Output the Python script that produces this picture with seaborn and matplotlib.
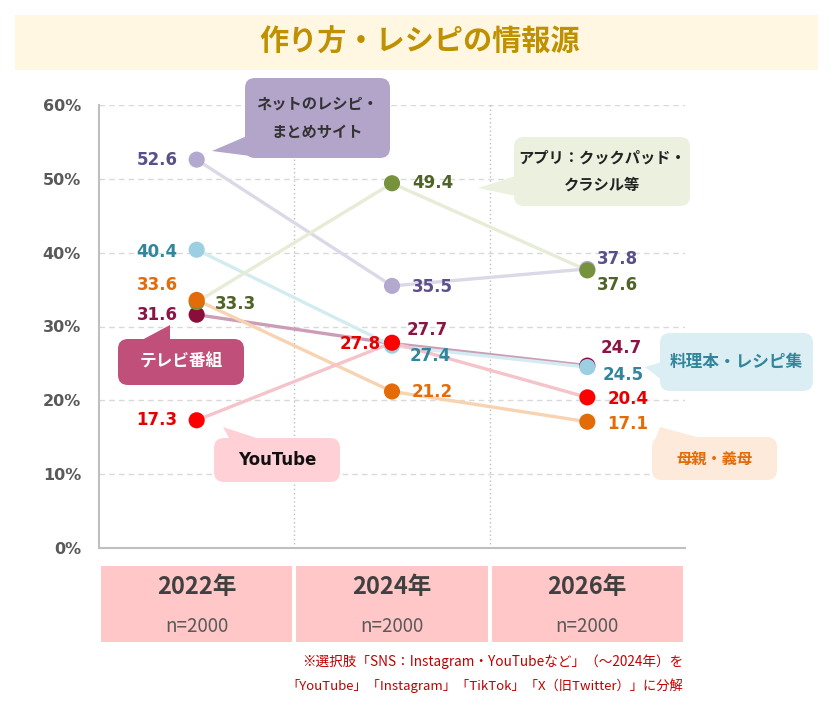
import numpy as np
import pandas as pd
import seaborn as sns
import matplotlib.pyplot as plt
from matplotlib.patches import FancyBboxPatch, Polygon, Rectangle
from matplotlib.transforms import IdentityTransform

# ---- data ----
years = ['2022年', '2024年', '2026年']
sample_sizes = ['n=2000', 'n=2000', 'n=2000']
sources = ['ネットのレシピ・まとめサイト', 'テレビ番組', '料理本・レシピ集',
           'アプリ：クックパッド・クラシル等', '母親・義母', 'YouTube']
net_recipe = [52.6, 35.5, 37.8]
tv_program = [31.6, 27.7, 24.7]
cookbook = [40.4, 27.4, 24.5]
app = [33.3, 49.4, 37.6]
mother = [33.6, 21.2, 17.1]
youtube = [17.3, 27.8, 20.4]
y_ticks = [0, 10, 20, 30, 40, 50, 60]

values = [net_recipe, tv_program, cookbook, app, mother, youtube]

# ---- styles ----
line_colors = ['#DCD8E7', '#CC9DB6', '#D3ECF1', '#E6ECD6', '#F8D3B2', '#F5C3CA']
marker_colors = ['#B3A9CF', '#8B0D3C', '#9DCFE2', '#76923C', '#E36C09', '#FF0000']
label_colors = ['#5A4F8A', '#8C1444', '#31859C', '#4F6228', '#E36C09', '#E60000']

# label offsets in pixels (dx, dy up, ha) per series / year
label_offsets = [
    [(-19, 0, 'right'), (20, -1, 'left'), (10, 10, 'left')],
    [(-19, 0, 'right'), (15, 13, 'left'), (13, 18, 'left')],
    [(-19, -2, 'right'), (18, -10, 'left'), (15, -8, 'left')],
    [(18, -2, 'left'), (20, 0, 'left'), (10, -15, 'left')],
    [(-19, 15, 'right'), (20, -1, 'left'), (20, -2, 'left')],
    [(-19, 0, 'right'), (-11, -1, 'right'), (20, -2, 'left')],
]

JP = ['Noto Sans CJK JP', 'DejaVu Sans']

sns.set_style('white')
plt.rcParams['font.family'] = ['DejaVu Sans', 'Noto Sans CJK JP']

W, H = 840, 705
fig = plt.figure(figsize=(W / 100, H / 100), dpi=100)
PX = IdentityTransform()


def fy(py):
    return H - py


# title band
fig.add_artist(Rectangle((15, fy(70)), 803, 55, transform=PX,
                         facecolor='#FFF7E1', edgecolor='none', zorder=0.5))
fig.text(420, fy(42), '作り方・レシピの情報源', transform=PX, ha='center', va='center',
         fontsize=21, fontweight='bold', color='#BF9000', family=JP)

# main axes
ax = fig.add_axes([99 / W, (H - 548) / H, 586 / W, 443 / H])
pos = np.arange(len(years)) + 0.5

rows = []
for name, vals in zip(sources, values):
    for p, v in zip(pos, vals):
        rows.append({'pos': p, 'value': v, 'source': name})
df = pd.DataFrame(rows)

sns.lineplot(data=df, x='pos', y='value', hue='source', hue_order=sources,
             palette=line_colors, linewidth=2.4, legend=False, sort=False,
             ax=ax, zorder=2)
sns.scatterplot(data=df, x='pos', y='value', hue='source', hue_order=sources,
                palette=marker_colors, s=135, edgecolor='none', legend=False,
                ax=ax, zorder=3)

for i, vals in enumerate(values):
    for j, v in enumerate(vals):
        dx, dy, ha = label_offsets[i][j]
        ax.annotate(f'{v:.1f}', xy=(pos[j], v), xytext=(dx * 0.72, dy * 0.72),
                    textcoords='offset points', ha=ha, va='center',
                    fontsize=12, fontweight='bold', color=label_colors[i], zorder=4)

ax.set_xlim(0, 3)
ax.set_ylim(0, 60)
ax.set_xticks([])
ax.set_yticks(y_ticks)
ax.set_yticklabels([f'{t}%' for t in y_ticks], fontsize=11.5, fontweight='bold',
                   color='#595959')
ax.tick_params(axis='y', length=4, direction='in', color='#BFBFBF', pad=13)
ax.set_xlabel('')
ax.set_ylabel('')
for t in y_ticks[1:]:
    ax.axhline(t, color='#D9D9D9', lw=1, ls=(0, (4, 3)), zorder=1)
for x in [1, 2]:
    ax.axvline(x, color='#BFBFBF', lw=1, ls=(0, (1, 2)), zorder=1)
for s in ['top', 'right']:
    ax.spines[s].set_visible(False)
ax.spines['left'].set_color('#BFBFBF')
ax.spines['left'].set_linewidth(1.5)
ax.spines['bottom'].set_color('#BFBFBF')
ax.spines['bottom'].set_linewidth(1.5)

# year header boxes
hx = fig.add_axes([99 / W, (H - 642) / H, 586 / W, 76 / H])
hx.set_xlim(0, 3)
hx.set_ylim(0, 1)
hx.axis('off')
g = 0.01
for i, (yr, n) in enumerate(zip(years, sample_sizes)):
    hx.add_patch(Rectangle((i + g, 0), 1 - 2 * g, 1, facecolor='#FFC7C7',
                           edgecolor='none'))
    hx.text(i + 0.5, 0.72, yr, ha='center', va='center', fontsize=17,
            fontweight='bold', color='#404040', family=JP)
    hx.text(i + 0.5, 0.21, n, ha='center', va='center', fontsize=13.5,
            color='#595959', family=JP)


# callouts
def callout(box, tri, color, lines, tcolor, size, family=JP, weight='bold', gap=28):
    x0, y0, x1, y1 = box
    fig.add_artist(Polygon([(x, fy(y)) for x, y in tri], closed=True, transform=PX,
                           facecolor=color, edgecolor='none', zorder=5))
    fig.add_artist(FancyBboxPatch((x0, fy(y1)), x1 - x0, y1 - y0,
                                  boxstyle='round,pad=0,rounding_size=10',
                                  transform=PX, facecolor=color, edgecolor='none',
                                  zorder=5))
    cx = (x0 + x1) / 2
    cy = (y0 + y1) / 2
    n = len(lines)
    for k, line in enumerate(lines):
        ty = cy + (k - (n - 1) / 2) * gap
        fig.text(cx, fy(ty), line, transform=PX, ha='center', va='center',
                 fontsize=size, fontweight=weight, color=tcolor, family=family,
                 zorder=6)


callout((245, 78, 390, 158), [(212, 151), (247, 136), (266, 158)], '#B3A4C9',
        ['ネットのレシピ・', 'まとめサイト'], '#333333', 11)
callout((514, 137, 690, 206), [(478, 188), (516, 176), (516, 196)], '#EBF0DF',
        ['アプリ：クックパッド・', 'クラシル等'], '#222222', 11, gap=27)
callout((660, 333, 813, 391), [(645, 367), (662, 362), (676, 391)], '#DAEEF3',
        ['料理本・レシピ集'], '#31859C', 12)
callout((652, 437, 777, 480), [(660, 427), (655, 440), (708, 440)], '#FDEADA',
        ['母親・義母'], '#E36C09', 11)
callout((118, 339, 244, 385), [(170, 325), (140, 341), (170, 341)], '#C0507A',
        ['テレビ番組'], '#FFFFFF', 12)
callout((214, 438, 340, 482), [(223, 427), (230, 440), (263, 440)], '#FFD1D6',
        ['YouTube'], '#111111', 12, family=['DejaVu Sans'])

# footnote
fig.text(683, fy(662), '※選択肢「SNS：Instagram・YouTubeなど」（～2024年）を',
         transform=PX, ha='right', va='center', fontsize=9.8, color='#C00000', family=JP)
fig.text(683, fy(686), '「YouTube」「Instagram」「TikTok」「X（旧Twitter）」に分解',
         transform=PX, ha='right', va='center', fontsize=9.5, color='#C00000', family=JP)

fig.savefig('out.png', dpi=100)
